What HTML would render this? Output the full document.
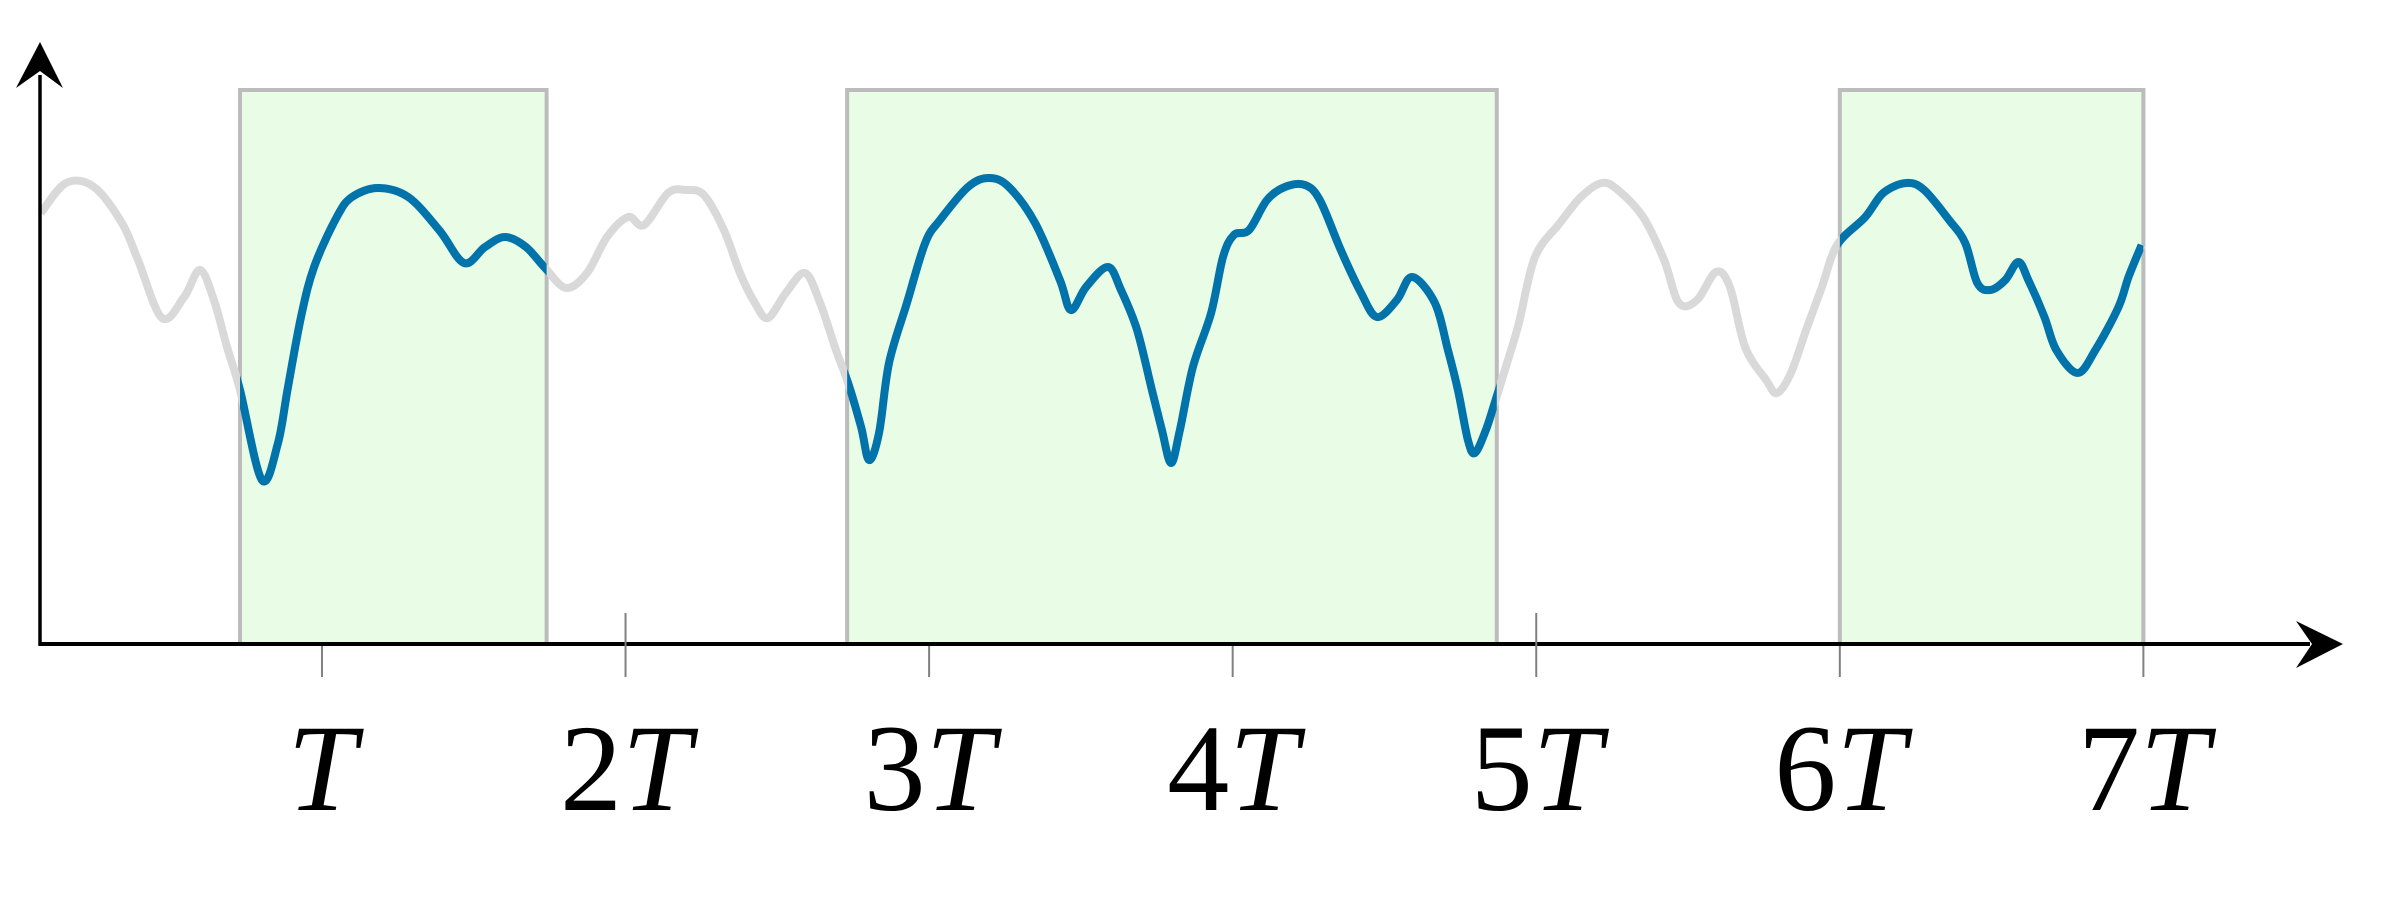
<!DOCTYPE html>
<html><head><meta charset="utf-8"><style>
html,body{margin:0;padding:0;background:#fff}
svg{display:block}
</style></head><body>
<svg id="chart" width="2382" height="898" viewBox="0 0 2382 898" xmlns="http://www.w3.org/2000/svg">
  <defs>
    <clipPath id="boxclip"></clipPath>
  </defs>
  <g id="boxes"></g>
  <g id="lines"></g>
  <g id="axes"></g>
  <g id="ticks"></g>
  <g id="labels"></g>
</svg>
<script>
// time in hundredths of T; value measured upward from the x-axis
const signalT = [7.4,15.7,24.9,34.1,39.4,47.3,54.6,59.8,64.4,68.7,73.0,
80.2,85.5,88.8,93.1,97.4,104.9,109.9,118.5,128.4,138.6,146.8,153.7,160.3,167.2,173.5,
180.4,187.3,193.9,200.8,206.1,214.0,219.9,225.8,232.4,237.7,242.6,246.9,252.8,259.1,264.1,269.3,273.3,
277.6,280.2,283.5,286.8,292.7,298.7,303.6,312.8,319.7,326.3,334.9,343.1,346.7,351.7,358.9,363.2,368.5,373.4,376.7,379.7,382.6,386.9,392.9,396.8,400.4,405.4,411.3,417.2,423.8,428.7,435.6,442.3,447.5,454.1,459.1,466.6,470.9,474.2,477.5,479.8,483.4,486.4,
491.0,494.3,499.6,507.8,514.7,521.6,526.9,535.2,542.1,547.0,553.0,559.2,563.8,568.8,575.7,579.3,583.9,588.9,594.1,599.1,
608.4,614.3,621.9,627.8,636.0,641.3,645.3,649.6,654.5,658.8,662.1,667.4,671.3,678.3,684.2,691.8,695.1,699.4];
const signalV = [431,461,457,421,384,326,347,374,344,297,254,
164,201,257,327,377,427,447,456,447,414,381,397,407,397,376,
356,371,407,427,419,451,454,449,414,371,341,326,351,371,341,294,261,
217,184,211,281,341,401,424,457,466,457,421,364,334,357,377,354,314,254,214,181,214,277,331,387,409,414,444,457,459,444,394,351,327,344,367,341,294,254,204,191,214,242,
287,321,387,421,447,461,454,427,384,341,344,372,357,297,264,251,271,314,357,399,
427,451,461,454,424,401,361,354,364,382,364,327,294,271,294,337,367,399];
const tickLabels = ["T","2T","3T","4T","5T","6T","7T"];
const tickMultiples = [1,2,3,4,5,6,7];
const tickTall = [false,true,false,false,true,false,false];
const boxStartT = [0.73,2.73,6.0];
const boxEndT = [1.74,4.87,7.0];

const NS = "http://www.w3.org/2000/svg";
const AXIS_Y = 644, AXIS_X = 40, X0 = 18.4, TW = 303.57, BOX_TOP = 90;
function xScale(t){ return X0 + t*TW; }          // t in units of T
function xScaleH(h){ return xScale(h/100); }     // h in hundredths of T
function yScale(v){ return AXIS_Y - v; }
function mk(tag, attrs, parent){
  const e = document.createElementNS(NS, tag);
  for (const k in attrs) e.setAttribute(k, attrs[k]);
  parent.appendChild(e); return e;
}
function smoothPath(pts){
  let d = "M" + pts[0][0].toFixed(1) + "," + pts[0][1].toFixed(1);
  for (let i=0;i<pts.length-1;i++){
    const p0 = pts[Math.max(0,i-1)], p1 = pts[i], p2 = pts[i+1], p3 = pts[Math.min(pts.length-1,i+2)];
    const c1x = p1[0]+(p2[0]-p0[0])/6, c1y = p1[1]+(p2[1]-p0[1])/6;
    const c2x = p2[0]-(p3[0]-p1[0])/6, c2y = p2[1]-(p3[1]-p1[1])/6;
    d += " C"+c1x.toFixed(1)+","+c1y.toFixed(1)+" "+c2x.toFixed(1)+","+c2y.toFixed(1)+" "+p2[0].toFixed(1)+","+p2[1].toFixed(1);
  }
  return d;
}

const boxes = document.getElementById("boxes");
const clip = document.getElementById("boxclip");
for (let i=0;i<boxStartT.length;i++){
  const x1 = xScale(boxStartT[i]), x2 = xScale(boxEndT[i]);
  const r = mk("rect", {x:x1, y:BOX_TOP, width:x2-x1, height:AXIS_Y-BOX_TOP, fill:"#e8fce6", stroke:"#bcbcbc", "stroke-width":4}, boxes);
  
  
  mk("rect", {x:x1, y:0, width:x2-x1, height:898}, clip);
}

const lines = document.getElementById("lines");
const n = Math.min(signalT.length, signalV.length);
const pts = [];
for (let i=0;i<n;i++) pts.push([xScaleH(signalT[i]), yScale(signalV[i])]);
const d = smoothPath(pts);
const gray = mk("path", {d:d, fill:"none", stroke:"#d9d9d9", "stroke-width":8, "stroke-linejoin":"round"}, lines);


const blue = mk("path", {d:d, fill:"none", stroke:"#0073aa", "stroke-width":8, "stroke-linejoin":"round", "clip-path":"url(#boxclip)"}, lines);



const axes = document.getElementById("axes");
const xa = mk("line", {x1:AXIS_X-1.5, y1:AXIS_Y, x2:2310, y2:AXIS_Y, stroke:"#000", "stroke-width":4}, axes);


const xh = mk("path", {d:"M2343,644 L2296,621 L2312,644 L2296,668 Z", fill:"#000"}, axes);


const ya = mk("line", {x1:AXIS_X, y1:AXIS_Y+1.5, x2:AXIS_X, y2:75, stroke:"#000", "stroke-width":3.5}, axes);


const yh = mk("path", {d:"M40,42 L16,88 L40,71 L63,88 Z", fill:"#000"}, axes);



const ticks = document.getElementById("ticks");
const labels = document.getElementById("labels");
for (let i=0;i<tickMultiples.length;i++){
  const x = xScale(tickMultiples[i]);
  const tk = mk("line", {x1:x, y1:tickTall[i]?613:646, x2:x, y2:677, stroke:"#808080", "stroke-width":2}, ticks);
  
  
  const tx = mk("text", {x:x, y:810, "text-anchor":"middle", "font-family":"'Liberation Serif', serif", "font-size":124, fill:"#000"}, labels);
  
  
  const lab = tickLabels[i];
  const num = lab.slice(0, lab.length-1);
  if (num){ const s = mk("tspan", {}, tx); s.textContent = num; }
  const it = mk("tspan", {"font-style":"italic"}, tx); it.textContent = "T";
}
</script>
</body></html>
